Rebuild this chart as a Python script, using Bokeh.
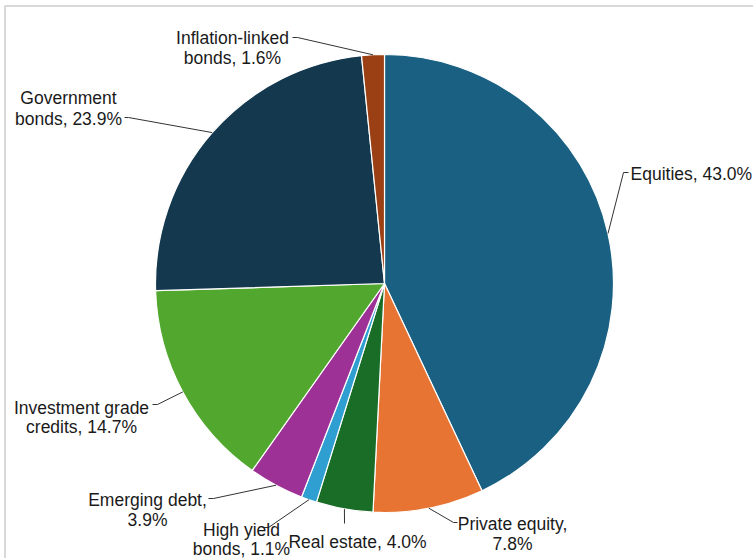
import math
from bokeh.plotting import figure
from bokeh.models import Range1d, ColumnDataSource
from bokeh.core.properties import value
from bokeh.embed import file_html
from bokeh.resources import INLINE

# ---- data ----
categories = ["Equities", "Private equity", "Real estate", "High yield bonds",
              "Emerging debt", "Investment grade credits", "Government bonds",
              "Inflation-linked bonds"]
values = [43.0, 7.8, 4.0, 1.1, 3.9, 14.7, 23.9, 1.6]
colors = ["#1a6082", "#e87433", "#1a6d27", "#2f9fd2",
          "#9e3195", "#52a82f", "#14394f", "#9a4014"]

# ---- layout (pixel space, y down) ----
W, H = 753, 558
CX, CY, R = 384, 283, 229
FONT = "Liberation Sans"
FSIZE = "17.5px"

# words before line break, anchor x, first baseline y, line gap, align, leader bend/end points
label_layout = [
    dict(brk=None, x=630, y=173, gap=20, align="left",   leader=[(623, 172), (628, 172)]),
    dict(brk=2,    x=512, y=523, gap=20, align="center", leader=[(453, 522), (457, 522)]),
    dict(brk=None, x=357, y=541, gap=20, align="center", leader=[(344, 523)]),
    dict(brk=2,    x=241, y=529, gap=19, align="center", leader=[(268, 527), (262, 527)]),
    dict(brk=2,    x=147, y=499, gap=20, align="center", leader=[(213, 498), (208, 498)]),
    dict(brk=2,    x=81,  y=407, gap=19, align="center", leader=[(157, 404), (152, 404)]),
    dict(brk=1,    x=68,  y=97,  gap=21, align="center", leader=[(128, 117), (124, 117)]),
    dict(brk=1,    x=232, y=37,  gap=20, align="center", leader=[(297, 37), (292, 37)]),
]


def fy(py):
    return H - py


p = figure(width=W, height=H, x_range=Range1d(0, W), y_range=Range1d(0, H),
           output_backend="svg", toolbar_location=None,
           x_axis_location=None, y_axis_location=None,
           min_border=0, outline_line_color=None)
p.grid.visible = False
p.background_fill_color = "white"
p.border_fill_color = "white"

# frame
p.quad(left=4.5, right=W + 10, top=fy(5.5), bottom=fy(H + 10),
       fill_color=None, line_color="#d9d9d9", line_width=2)

# wedges
total = sum(values)
starts, ends, mids = [], [], []
cum = 0.0
for v in values:
    t1 = 360.0 * cum / total
    cum += v
    t2 = 360.0 * cum / total
    starts.append(math.radians(90 - t2))
    ends.append(math.radians(90 - t1))
    mids.append(math.radians((t1 + t2) / 2))

src = ColumnDataSource(dict(start=starts, end=ends, color=colors, cat=categories, val=values))
p.wedge(x=CX, y=fy(CY), radius=R, start_angle="start", end_angle="end",
        fill_color="color", line_color="white", line_width=1.2, source=src)

# leaders and labels
lx, ly = [], []
tx = {"left": [], "center": []}
tyy = {"left": [], "center": []}
tt = {"left": [], "center": []}
for cat, v, m, lay in zip(categories, values, mids, label_layout):
    ex = CX + R * math.sin(m)
    ey = CY - R * math.cos(m)
    pts = [(ex, ey)] + lay["leader"]
    lx.append([q[0] for q in pts])
    ly.append([fy(q[1]) for q in pts])
    full = f"{cat}, {v:.1f}%"
    words = full.split(" ")
    if lay["brk"] is None:
        lines = [full]
    else:
        lines = [" ".join(words[:lay["brk"]]), " ".join(words[lay["brk"]:])]
    for i, line in enumerate(lines):
        tx[lay["align"]].append(lay["x"])
        tyy[lay["align"]].append(fy(lay["y"] + i * lay["gap"]))
        tt[lay["align"]].append(line)

p.multi_line(xs=lx, ys=ly, line_color="#333333", line_width=1)

for al in ("left", "center"):
    p.text(x=tx[al], y=tyy[al], text=tt[al], text_align=al, text_baseline="alphabetic",
           text_font=value(FONT), text_font_size=value(FSIZE), text_color="#1a1a1a")

open("out.html", "w").write(file_html(p, INLINE))
